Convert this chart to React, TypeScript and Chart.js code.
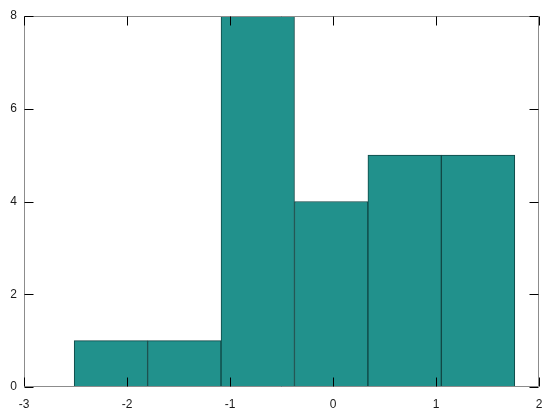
import React, { useEffect, useRef } from "react";
import { Chart, registerables } from "chart.js";

Chart.register(...registerables);

const binEdges = [-2.513, -1.8, -1.087, -0.374, 0.339, 1.052, 1.765];
const counts = [1, 1, 8, 4, 5, 5];
const xTicks = [-3, -2, -1, 0, 1, 2];
const yTicks = [0, 2, 4, 6, 8];

const framePlugin = {
  id: "frameTicks",
  afterDatasetsDraw(chart: any) {
    const { ctx, chartArea, scales } = chart;
    const l = Math.round(chartArea.left) + 0.5;
    const r = Math.round(chartArea.right) - 0.5;
    const t = Math.round(chartArea.top) + 0.5;
    const b = Math.round(chartArea.bottom) - 0.5;
    ctx.save();
    ctx.lineWidth = 1;
    ctx.strokeStyle = "#8c8c8c";
    ctx.beginPath();
    ctx.rect(l, t, r - l, b - t);
    ctx.stroke();
    ctx.strokeStyle = "#000000";
    const len = 9;
    ctx.beginPath();
    for (const v of xTicks) {
      const x = Math.round(scales.x.getPixelForValue(v)) + 0.5;
      ctx.moveTo(x, b);
      ctx.lineTo(x, b - len);
      ctx.moveTo(x, t);
      ctx.lineTo(x, t + len);
    }
    for (const v of yTicks) {
      const y = Math.round(scales.y.getPixelForValue(v)) + 0.5;
      ctx.moveTo(l, y);
      ctx.lineTo(l + len, y);
      ctx.moveTo(r, y);
      ctx.lineTo(r - len, y);
    }
    ctx.stroke();
    ctx.restore();
  },
};

export default function App() {
  const ref = useRef<HTMLCanvasElement>(null);
  useEffect(() => {
    document.body.style.margin = "0";
    const centers = counts.map((_, i) => (binEdges[i] + binEdges[i + 1]) / 2);
    const chart = new Chart(ref.current!, {
      type: "bar",
      data: {
        datasets: [
          {
            data: centers.map((c, i) => ({ x: c, y: counts[i] })),
            backgroundColor: "#21918c",
            borderColor: "#0f4644",
            borderWidth: 1,
            borderSkipped: false,
            barPercentage: 1,
            categoryPercentage: 1,
          } as any,
        ],
      },
      options: {
        responsive: false,
        animation: false,
        layout: { padding: { top: 16, right: 21, left: 0, bottom: 0 } },
        plugins: { legend: { display: false }, tooltip: { enabled: false } },
        scales: {
          x: {
            type: "linear",
            min: -3,
            max: 2,
            offset: false,
            grid: { display: false, drawTicks: false, offset: false },
            border: { display: false },
            ticks: {
              stepSize: 1,
              padding: 10,
              color: "#1a1a1a",
              font: { family: "Liberation Sans, Arial", size: 12 },
              maxRotation: 0,
            },
            afterFit: (s: any) => {
              s.height = 33;
            },
          },
          y: {
            min: 0,
            max: 8,
            grid: { display: false, drawTicks: false },
            border: { display: false },
            ticks: {
              stepSize: 2,
              padding: 7,
              color: "#1a1a1a",
              font: { family: "Liberation Sans, Arial", size: 12 },
            },
            afterFit: (s: any) => {
              s.width = 24;
            },
          },
        },
      },
      plugins: [framePlugin],
    });
    return () => chart.destroy();
  }, []);
  return (
    <canvas
      ref={ref}
      width={560}
      height={420}
      style={{ display: "block", position: "absolute", left: 0, top: 0 }}
    />
  );
}
